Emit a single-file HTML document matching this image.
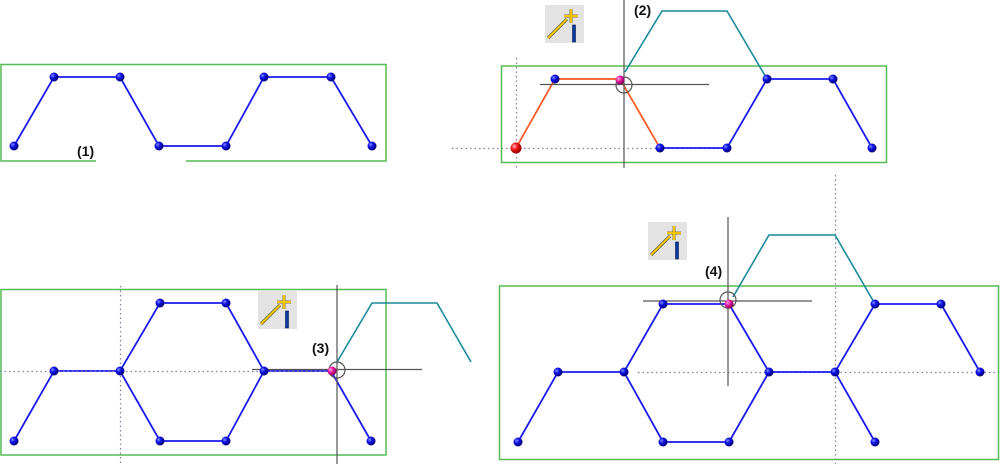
<!DOCTYPE html>
<html><head><meta charset="utf-8"><style>
html,body{margin:0;padding:0;background:#fff;}
svg{display:block;}
text{font-family:"Liberation Sans",Arial,sans-serif;font-weight:bold;font-size:14px;fill:#111;}
</style></head><body>
<svg width="1000" height="464" viewBox="0 0 1000 464" xmlns="http://www.w3.org/2000/svg">
<defs>
<radialGradient id="bb" cx="0.35" cy="0.35" r="0.7">
<stop offset="0" stop-color="#7f90ff"/><stop offset="0.4" stop-color="#1010e8"/><stop offset="1" stop-color="#00006a"/>
</radialGradient>
<radialGradient id="rb" cx="0.35" cy="0.35" r="0.7">
<stop offset="0" stop-color="#ffb0b0"/><stop offset="0.45" stop-color="#ee1010"/><stop offset="1" stop-color="#800000"/>
</radialGradient>
<radialGradient id="mb" cx="0.35" cy="0.35" r="0.7">
<stop offset="0" stop-color="#ffa0e0"/><stop offset="0.5" stop-color="#e0109a"/><stop offset="1" stop-color="#70004a"/>
</radialGradient>
<g id="icon">
<rect x="0" y="0" width="39" height="38" fill="#e3e3e3"/>
<line x1="3" y1="33" x2="22" y2="14" stroke="#444" stroke-width="3.2"/>
<line x1="3" y1="33" x2="22" y2="14" stroke="#f5c800" stroke-width="2"/>
<line x1="26" y1="4" x2="26" y2="18" stroke="#7a5a00" stroke-width="2.8"/>
<line x1="19" y1="11" x2="33" y2="11" stroke="#7a5a00" stroke-width="2.8"/>
<line x1="26" y1="4" x2="26" y2="18" stroke="#ffd000" stroke-width="1.8"/>
<line x1="19" y1="11" x2="33" y2="11" stroke="#ffd000" stroke-width="1.8"/>
<rect x="27.5" y="20" width="3" height="17" fill="#0a3a9a" stroke="#001a50" stroke-width="0.6"/>
</g>
</defs>

<!-- ===== Panel 1 ===== -->
<g fill="none" stroke="#55bb55" stroke-width="1.5">
<polyline points="96,161 1,161 1,64.5 386,64.5 386,161 186,161"/>
</g>
<polyline points="14,146 54,77 120,77 159,146 226,146 264,77 331,77 372,146" fill="none" stroke="#1a1aee" stroke-width="1.8"/>
<g fill="url(#bb)">
<circle cx="14" cy="146" r="4.5"/><circle cx="54" cy="77" r="4.5"/><circle cx="120" cy="77" r="4.5"/><circle cx="159" cy="146" r="4.5"/>
<circle cx="226" cy="146" r="4.5"/><circle cx="264" cy="77" r="4.5"/><circle cx="331" cy="77" r="4.5"/><circle cx="372" cy="146" r="4.5"/>
</g>
<text x="77" y="156">(1)</text>

<!-- ===== Panel 2 ===== -->
<use href="#icon" x="545" y="5"/>
<g stroke="#8a7aa8" stroke-width="1.2" stroke-dasharray="1.5,3" fill="none">
<line x1="516.5" y1="58" x2="516.5" y2="168"/>
<line x1="452" y1="148.5" x2="720" y2="148.5"/>
</g>
<rect x="501.5" y="66" width="385" height="96.5" fill="none" stroke="#55bb55" stroke-width="1.5"/>
<polyline points="625,72 662,11 727,11 767,79" fill="none" stroke="#1a8a9a" stroke-width="1.6"/>
<polyline points="516,148 555,79 620,79 660,148" fill="none" stroke="#ff5520" stroke-width="1.7"/>
<polyline points="660,148 727,148 767,79 833,79 872,148" fill="none" stroke="#1a1aee" stroke-width="1.8"/>
<g stroke="#555" stroke-width="1.2" fill="none">
<line x1="624" y1="0" x2="624" y2="168"/>
<line x1="540" y1="84.5" x2="709" y2="84.5"/>
<circle cx="624" cy="85" r="8"/>
</g>
<circle cx="620" cy="80" r="4.5" fill="url(#mb)"/>
<g fill="url(#bb)">
<circle cx="555" cy="79" r="4.5"/><circle cx="660" cy="148" r="4.5"/><circle cx="727" cy="148" r="4.5"/>
<circle cx="767" cy="79" r="4.5"/><circle cx="833" cy="79" r="4.5"/><circle cx="872" cy="148" r="4.5"/>
</g>
<circle cx="516" cy="148" r="5.5" fill="url(#rb)"/>
<text x="634" y="15">(2)</text>

<!-- ===== Panel 3 ===== -->
<use href="#icon" x="258" y="291"/>
<rect x="1" y="289.5" width="385" height="165.5" fill="none" stroke="#55bb55" stroke-width="1.5"/>
<polyline points="14,441 54,371 120,371 160,303 226,303 264,371 226,441 160,441 120,371" fill="none" stroke="#1a1aee" stroke-width="1.8"/>
<polyline points="264,371 331,371 371,441" fill="none" stroke="#1a1aee" stroke-width="1.8"/>
<g stroke="#8a7aa8" stroke-width="1.2" stroke-dasharray="1.5,3" fill="none">
<line x1="120.5" y1="286" x2="120.5" y2="464"/>
<line x1="0" y1="371.5" x2="334" y2="371.5"/>
</g>
<polyline points="337,362 372,303 437,303 471,362" fill="none" stroke="#1a8a9a" stroke-width="1.6"/>
<g stroke="#555" stroke-width="1.2" fill="none">
<line x1="337" y1="285" x2="337" y2="464"/>
<line x1="252" y1="369.5" x2="422" y2="369.5"/>
<circle cx="337" cy="370" r="8"/>
</g>
<g fill="url(#bb)">
<circle cx="14" cy="441" r="4.5"/><circle cx="54" cy="371" r="4.5"/><circle cx="120" cy="371" r="4.5"/>
<circle cx="160" cy="303" r="4.5"/><circle cx="226" cy="303" r="4.5"/><circle cx="264" cy="371" r="4.5"/>
<circle cx="160" cy="441" r="4.5"/><circle cx="226" cy="441" r="4.5"/><circle cx="371" cy="441" r="4.5"/>
</g>
<circle cx="332" cy="371" r="4.5" fill="url(#mb)"/>
<text x="312" y="353">(3)</text>

<!-- ===== Panel 4 ===== -->
<use href="#icon" x="648" y="222"/>
<g stroke="#8a7aa8" stroke-width="1.2" stroke-dasharray="1.5,3" fill="none">
<line x1="835.5" y1="175" x2="835.5" y2="464"/>
<line x1="638" y1="372.5" x2="1000" y2="372.5"/>
</g>
<rect x="499.5" y="286" width="499" height="173.5" fill="none" stroke="#55bb55" stroke-width="1.5"/>
<polyline points="733,297 769,235 835,235 875,304" fill="none" stroke="#1a8a9a" stroke-width="1.6"/>
<g fill="none" stroke="#1a1aee" stroke-width="1.8">
<polyline points="518,442 558,372 624,372 663,304 729,304 769,372 835,372 875,304 941,304 980,372"/>
<polyline points="624,372 663,442 729,442 769,372"/>
<polyline points="835,372 875,442"/>
</g>
<g stroke="#555" stroke-width="1.2" fill="none">
<line x1="728" y1="217" x2="728" y2="386"/>
<line x1="643" y1="301" x2="812" y2="301"/>
<circle cx="728" cy="300" r="8"/>
</g>
<g fill="url(#bb)">
<circle cx="518" cy="442" r="4.5"/><circle cx="558" cy="372" r="4.5"/><circle cx="624" cy="372" r="4.5"/>
<circle cx="663" cy="304" r="4.5"/><circle cx="769" cy="372" r="4.5"/><circle cx="835" cy="372" r="4.5"/>
<circle cx="875" cy="304" r="4.5"/><circle cx="941" cy="304" r="4.5"/><circle cx="980" cy="372" r="4.5"/>
<circle cx="663" cy="442" r="4.5"/><circle cx="729" cy="442" r="4.5"/><circle cx="875" cy="442" r="4.5"/>
</g>
<circle cx="729" cy="304" r="4.5" fill="url(#mb)"/>
<text x="705" y="276">(4)</text>
</svg>
</body></html>
